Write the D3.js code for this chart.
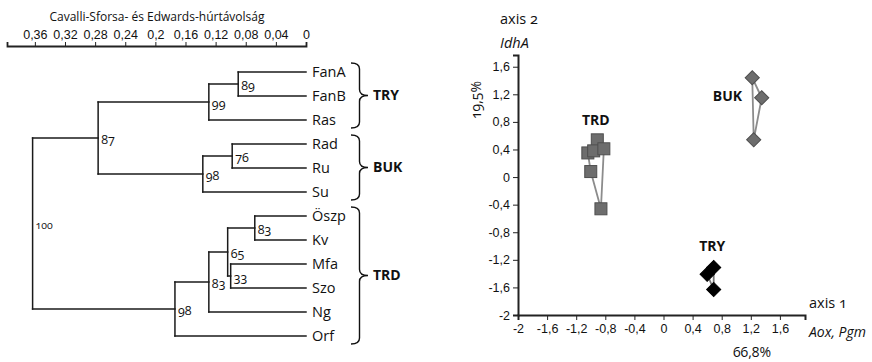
<!DOCTYPE html>
<html>
<head>
<meta charset="utf-8">
<script src="https://cdn.jsdelivr.net/npm/d3@7"></script>
<style>
  body { margin: 0; background: #fff; }
  svg { font-family: "Open Sans", "DejaVu Sans", sans-serif; font-variant-numeric: oldstyle-nums; }
  .ax path, .ax line { stroke: #222; }
  .ax text { font-size: 12.5px; fill: #111; }
</style>
</head>
<body>
<div id="chart"></div>
<script>
// --- dendrogram data (distance, bootstrap support) ---
const treeIds     = ['r', 'n87', 'n99', 'n89', 'FanA', 'FanB', 'Ras', 'n98b', 'n76', 'Rad', 'Ru', 'Su',
                     'n98t', 'n83a', 'n65', 'n83b', 'Öszp', 'Kv', 'n33', 'Mfa', 'Szo', 'Ng', 'Orf'];
const treeParents = ['', 'r', 'n87', 'n99', 'n89', 'n89', 'n99', 'n87', 'n98b', 'n76', 'n76', 'n98b',
                     'r', 'n98t', 'n83a', 'n65', 'n83b', 'n83b', 'n65', 'n33', 'n33', 'n83a', 'n98t'];
const treeHeights = [0.363, 0.276, 0.129, 0.090, 0, 0, 0, 0.137, 0.098, 0, 0, 0,
                     0.174, 0.129, 0.104, 0.068, 0, 0, 0.100, 0, 0, 0, 0];
const treeSupport = [100, 87, 99, 89, null, null, null, 98, 76, null, null, null,
                     98, 83, 65, 83, null, null, 33, null, null, null, null];
const leaves = ['FanA', 'FanB', 'Ras', 'Rad', 'Ru', 'Su', 'Öszp', 'Kv', 'Mfa', 'Szo', 'Ng', 'Orf'];
const groups = ['TRY', 'BUK', 'TRD'];
const groupLeaves = [['FanA', 'Ras'], ['Rad', 'Su'], ['Öszp', 'Orf']];
const distTicks = [0.36, 0.32, 0.28, 0.24, 0.20, 0.16, 0.12, 0.08, 0.04, 0];

// --- PCA scatter data ---
const trdX = [-0.91, -1.04, -0.96, -0.82, -1.00, -0.86];
const trdY = [0.54, 0.35, 0.38, 0.41, 0.08, -0.46];
const bukX = [1.22, 1.35, 1.24];
const bukY = [1.44, 1.15, 0.54];
const tryX = [0.60, 0.69, 0.69];
const tryY = [-1.41, -1.31, -1.63];
const axisTicks = [-2, -1.6, -1.2, -0.8, -0.4, 0, 0.4, 0.8, 1.2, 1.6];

const W = 872, H = 362;
const svg = d3.select('#chart').append('svg').attr('width', W).attr('height', H);

const loc = d3.formatLocale({decimal: ',', thousands: ' ', grouping: [3], currency: ['', ''], minus: '-'});
const fmt = loc.format('.2~f');

// ================= dendrogram =================
const dx = d3.scaleLinear().domain([0.397, 0]).range([7, 306]);
const ly = d3.scalePoint().domain(leaves).range([72, 336]);

const table = treeIds.map((id, i) => ({id, parent: treeParents[i], h: treeHeights[i], s: treeSupport[i]}));
const root = d3.stratify().id(d => d.id).parentId(d => d.parent || null)(table);
root.eachAfter(n => {
  n.px = dx(n.data.h);
  n.py = n.children ? d3.mean([n.children[0].py, n.children[n.children.length - 1].py]) : ly(n.id);
});

const dend = svg.append('g');
const segs = [];
root.each(n => {
  if (n.children) {
    const ys = n.children.map(c => c.py);
    segs.push([[n.px, d3.min(ys)], [n.px, d3.max(ys)]]);
    n.children.forEach(c => segs.push([[n.px, c.py], [c.px, c.py]]));
  }
});
dend.selectAll('line.br').data(segs).join('line')
  .attr('x1', d => d[0][0]).attr('y1', d => d[0][1])
  .attr('x2', d => d[1][0]).attr('y2', d => d[1][1])
  .attr('stroke', '#1a1a1a').attr('stroke-width', 1.5).attr('stroke-linecap', 'square');

dend.selectAll('text.leaf').data(root.leaves()).join('text')
  .attr('x', d => d.px + 6).attr('y', d => d.py)
  .attr('dy', '0.35em').attr('font-size', 14.5).attr('fill', '#111')
  .text(d => d.id);

dend.selectAll('text.sup').data(root.descendants().filter(d => d.data.s != null)).join('text')
  .attr('x', d => d.px + 3).attr('y', d => d.py + 2)
  .attr('dy', '0.35em').attr('font-size', d => d.depth === 0 ? 10.5 : 12.5).attr('fill', '#111')
  .text(d => d.data.s);

// distance axis
const dAxis = svg.append('g').attr('class', 'ax').attr('transform', 'translate(0,46)')
  .call(d3.axisTop(dx).tickValues(distTicks).tickFormat(fmt).tickSizeOuter(0).tickSize(4).tickPadding(3));
dAxis.select('.domain').attr('stroke-width', 1.8);
svg.append('text').attr('x', 157).attr('y', 17).attr('dy', '0.35em')
  .attr('text-anchor', 'middle').attr('font-size', 12).attr('fill', '#111')
  .text('Cavalli-Sforsa- és Edwards-húrtávolság');

// group braces
function brace(x, y0, y1, w) {
  const m = (y0 + y1) / 2, q = 6, xm = x + w / 2;
  return `M${x},${y0} Q${xm},${y0} ${xm},${y0 + q} L${xm},${m - q} Q${xm},${m} ${x + w},${m}` +
         ` Q${xm},${m} ${xm},${m + q} L${xm},${y1 - q} Q${xm},${y1} ${x},${y1}`;
}
groups.forEach((g, i) => {
  const y0 = ly(groupLeaves[i][0]) - 9, y1 = ly(groupLeaves[i][1]) + 8;
  svg.append('path').attr('d', brace(351, y0, y1, 17))
    .attr('fill', 'none').attr('stroke', '#111').attr('stroke-width', 1.4);
  svg.append('text').attr('x', 373).attr('y', (y0 + y1) / 2).attr('dy', '0.35em')
    .attr('font-size', 14).attr('font-weight', 'bold').attr('fill', '#111').text(g);
});

// ================= PCA scatter =================
const sx = d3.scaleLinear().domain([-2, 1.945]).range([518, 805]);
const sy = d3.scaleLinear().domain([-2, 1.77]).range([315, 55]);

const xa = svg.append('g').attr('class', 'ax').attr('transform', `translate(0,${sy(-2)})`)
  .call(d3.axisBottom(sx).tickValues(axisTicks).tickFormat(fmt).tickSizeOuter(0).tickSize(5).tickPadding(4));
xa.select('.domain').attr('stroke-width', 2);
xa.selectAll('text').attr('font-size', 13.5);
const ya = svg.append('g').attr('class', 'ax').attr('transform', `translate(${sx(-2)},0)`)
  .call(d3.axisLeft(sy).tickValues(axisTicks).tickFormat(fmt).tickSizeOuter(0).tickSize(5).tickPadding(3));
ya.select('.domain').attr('stroke-width', 2);
ya.selectAll('text').attr('font-size', 13.5);

function hullPath(xs, ys) {
  const pts = d3.polygonHull(xs.map((x, i) => [sx(x), sy(ys[i])]));
  return 'M' + pts.join('L') + 'Z';
}
const sc = svg.append('g');
[[trdX, trdY, '#8c8c8c'], [bukX, bukY, '#8c8c8c'], [tryX, tryY, '#777']].forEach(([xs, ys, c]) => {
  sc.append('path').attr('d', hullPath(xs, ys))
    .attr('fill', 'none').attr('stroke', c).attr('stroke-width', 1.8);
});

const sq = 12;
sc.selectAll('rect.trd').data(trdX.map((x, i) => [x, trdY[i]])).join('rect')
  .attr('x', d => sx(d[0]) - sq / 2).attr('y', d => sy(d[1]) - sq / 2)
  .attr('width', sq).attr('height', sq)
  .attr('fill', '#6d6d6d').attr('stroke', '#4e4e4e').attr('stroke-width', 1);

const dia = d3.symbol().type(d3.symbolSquare).size(100);
sc.selectAll('path.buk').data(bukX.map((x, i) => [x, bukY[i]])).join('path')
  .attr('d', dia).attr('transform', d => `translate(${sx(d[0])},${sy(d[1])}) rotate(45)`)
  .attr('fill', '#6d6d6d').attr('stroke', '#4e4e4e').attr('stroke-width', 1);
sc.selectAll('path.try').data(tryX.map((x, i) => [x, tryY[i]])).join('path')
  .attr('d', dia).attr('transform', d => `translate(${sx(d[0])},${sy(d[1])}) rotate(45)`)
  .attr('fill', '#000').attr('stroke', '#000').attr('stroke-width', 1);

// group labels
const glab = [['TRD', -0.93, 0.83], ['BUK', 0.88, 1.18], ['TRY', 0.67, -1.0]];
glab.forEach(([t, x, y]) => {
  svg.append('text').attr('x', sx(x)).attr('y', sy(y)).attr('dy', '0.35em')
    .attr('text-anchor', 'middle').attr('font-size', 14).attr('font-weight', 'bold').attr('fill', '#111').text(t);
});

// axis titles
const txt = (x, y, s, opt = {}) => svg.append('text').attr('x', x).attr('y', y).attr('dy', '0.35em')
  .attr('font-size', opt.size || 14.5).attr('fill', '#111')
  .attr('font-style', opt.italic ? 'italic' : null)
  .attr('text-anchor', opt.anchor || 'start').text(s);
txt(500, 19, 'axis 2');
txt(500, 43, 'IdhA', {italic: true});
txt(809, 303, 'axis 1');
txt(809, 332, 'Aox, Pgm', {italic: true, size: 14});
txt(752, 352, '66,8%', {anchor: 'middle', size: 14});
svg.append('text').attr('transform', 'translate(476,100) rotate(-90)').attr('dy', '0.35em')
  .attr('text-anchor', 'middle').attr('font-size', 14).attr('fill', '#111').text('19,5%');
</script>
</body>
</html>
